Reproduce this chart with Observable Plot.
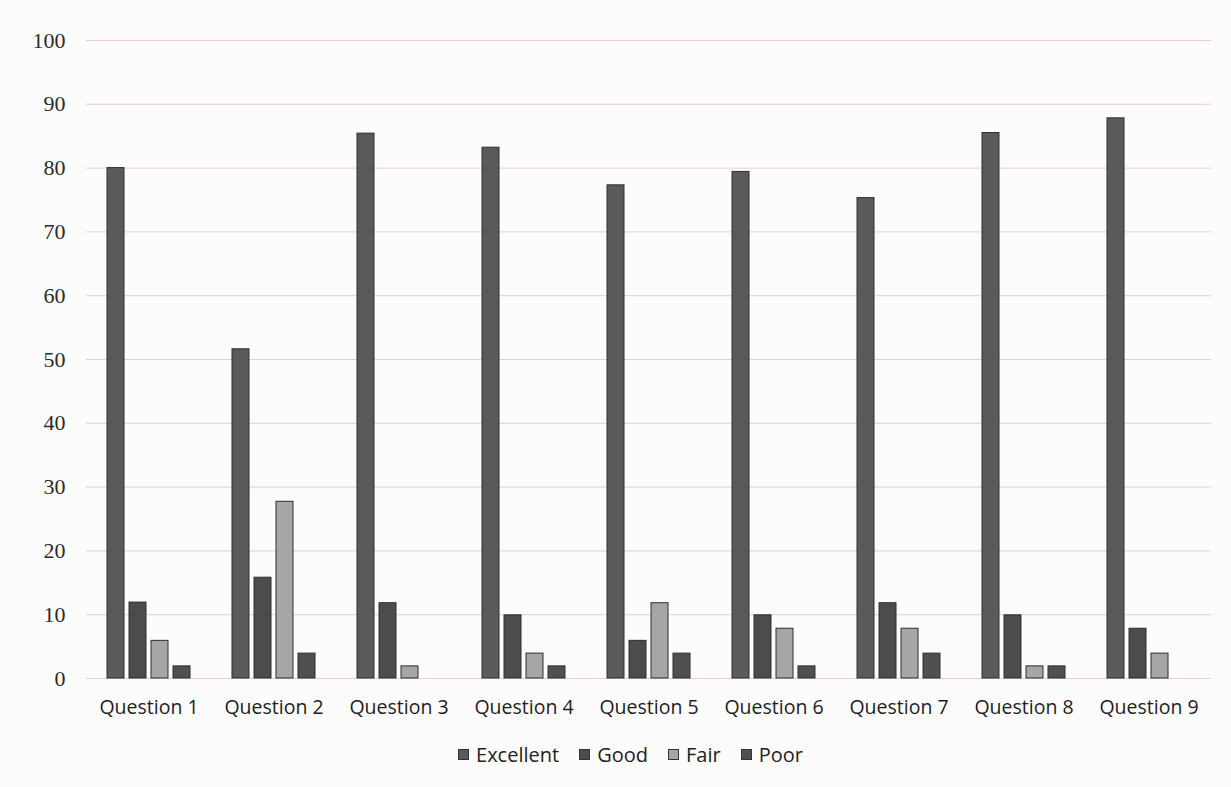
<!DOCTYPE html>
<html>
<head>
<meta charset="utf-8">
<script src="https://cdn.jsdelivr.net/npm/d3@7"></script>
<script src="https://cdn.jsdelivr.net/npm/@observablehq/plot@0.6"></script>
<style>
  html, body { margin: 0; padding: 0; background: #fdfcfc; }
  #chart { width: 1231px; }
  #legend { display: flex; justify-content: center; gap: 20px; font-family: "Open Sans", sans-serif; font-size: 20px; color: #222; margin-top: 11px; padding-left: 30px; }
  #legend .item { display: flex; align-items: center; gap: 7px; }
  #legend .sw { width: 11px; height: 11px; border: 1px solid #333; box-sizing: border-box; }
</style>
</head>
<body>
<div id="chart"></div>
<div id="legend"></div>
<script>
const questions = ["Question 1","Question 2","Question 3","Question 4","Question 5","Question 6","Question 7","Question 8","Question 9"];
const series = ["Excellent","Good","Fair","Poor"];
const excellent = [80, 51.6, 85.4, 83.2, 77.3, 79.4, 75.3, 85.5, 87.8];
const good      = [11.9, 15.8, 11.8, 9.9, 5.9, 9.9, 11.8, 9.9, 7.8];
const fair      = [5.9, 27.7, 1.9, 3.9, 11.8, 7.8, 7.8, 1.9, 3.9];
const poor      = [1.9, 3.9, 0, 1.9, 3.9, 1.9, 3.9, 1.9, 0];
const seriesColors = ["#5a5a5a", "#4c4c4c", "#a6a6a6", "#505050"];
const yTicks = [0,10,20,30,40,50,60,70,80,90,100];

const valuesBySeries = [excellent, good, fair, poor];
const data = [];
questions.forEach((q, i) => {
  series.forEach((s, j) => {
    data.push({question: q, series: s, value: valuesBySeries[j][i]});
  });
});

const chart = Plot.plot({
  width: 1231,
  height: 730,
  marginTop: 40,
  marginBottom: 52,
  marginLeft: 84,
  marginRight: 18,
  style: {background: "transparent"},
  fx: {domain: questions, padding: 0, label: null},
  x: {domain: series, paddingInner: 0.24, paddingOuter: 0.91, axis: null},
  y: {domain: [0, 100], label: null},
  color: {domain: series, range: seriesColors},
  marks: [
    Plot.ruleY(yTicks, {stroke: "#efcccc", strokeWidth: 1}),
    Plot.barY(data, {fx: "question", x: "series", y: "value", fill: "series", stroke: "#2e2e2e", strokeWidth: 1}),
    Plot.axisY(yTicks, {tickSize: 0, tickPadding: 21, fontSize: 22, fontFamily: "Liberation Serif", fill: "#2a2a2a", label: null}),
    Plot.axisFx({anchor: "bottom", tickSize: 0, tickPadding: 22, fontSize: 19.5, fontFamily: "Open Sans", fill: "#1e1e1e", label: null})
  ]
});
document.getElementById("chart").appendChild(chart);

const legend = document.getElementById("legend");
series.forEach((s, j) => {
  const item = document.createElement("div");
  item.className = "item";
  const sw = document.createElement("span");
  sw.className = "sw";
  sw.style.background = seriesColors[j];
  const t = document.createElement("span");
  t.textContent = s;
  item.appendChild(sw);
  item.appendChild(t);
  legend.appendChild(item);
});
</script>
</body>
</html>
